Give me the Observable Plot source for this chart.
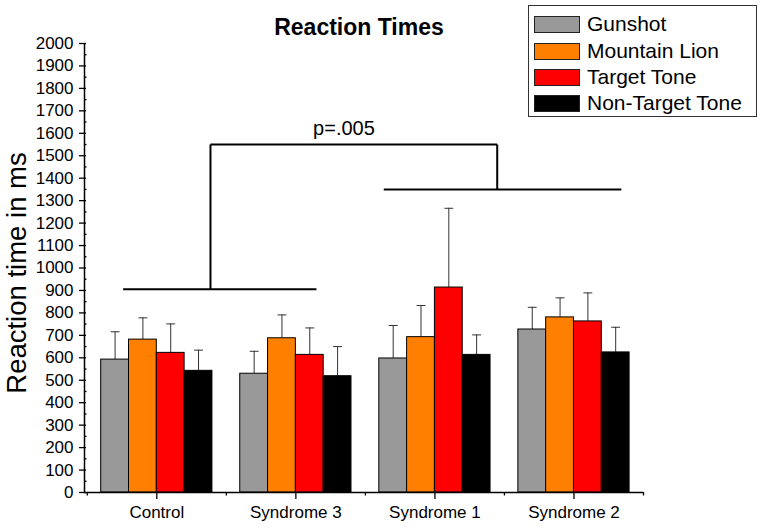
<!DOCTYPE html>
<html>
<head>
<meta charset="utf-8">
<script src="https://cdn.jsdelivr.net/npm/d3@7"></script>
<script src="https://cdn.jsdelivr.net/npm/@observablehq/plot@0.6"></script>
<style>
  html, body { margin: 0; padding: 0; background: #fff; }
  #wrap { position: relative; width: 764px; height: 530px; font-family: "Liberation Sans", Arial, sans-serif; }
  #legend { position: absolute; left: 528px; top: 5px; width: 229px; height: 112px; border: 1px solid #333; box-sizing: border-box; background: #fff; }
  .row { position: absolute; left: 5px; height: 20px; display: flex; align-items: center; }
  .sw { width: 46px; height: 17px; border: 1px solid #222; box-sizing: border-box; margin-right: 7px; }
  .lab { font-size: 21px; color: #000; white-space: nowrap; line-height: 20px; }
</style>
</head>
<body>
<div id="wrap"><div id="chart"></div><div id="legend"></div></div>
<script>
// ---- data ----
const categories = ["Control", "Syndrome 3", "Syndrome 1", "Syndrome 2"];
const seriesNames = ["Gunshot", "Mountain Lion", "Target Tone", "Non-Target Tone"];
const seriesColors = ["#999999", "#ff8000", "#ff0000", "#000000"];
const gunshot      = [592, 529, 597, 726];
const mountainLion = [681, 687, 692, 780];
const targetTone   = [622, 613, 913, 762];
const nonTarget    = [542, 518, 613, 624];
const gunshotErr      = [124, 100, 147, 99];
const mountainLionErr = [97, 104, 141, 87];
const targetToneErr   = [129, 120, 353, 127];
const nonTargetErr    = [92, 132, 89, 112];
const yTicks = d3.range(0, 2001, 100);
const yMinorTicks = d3.range(50, 2000, 100);
// significance bracket (category-index units, ms)
const bracketX  = [0.258, 0.886, 0.886, 2.948, 2.132];
const bracketX2 = [1.648, 0.886, 2.948, 2.948, 3.841];
const bracketY  = [905, 905, 1550, 1550, 1350];
const bracketY2 = [905, 1550, 1550, 1350, 1350];
const pLabel = "p=.005";
const pLabelX = 1.846, pLabelY = 1620;

// ---- build table ----
const values = [gunshot, mountainLion, targetTone, nonTarget];
const errs = [gunshotErr, mountainLionErr, targetToneErr, nonTargetErr];
const groupOffset = 0.1, barW = 0.2;
const rows = [];
categories.forEach((c, ci) => {
  seriesNames.forEach((s, si) => {
    const x1 = ci + groupOffset + si * barW;
    rows.push({category: c, series: s, x1, x2: x1 + barW, xc: x1 + barW / 2,
               value: values[si][ci], top: values[si][ci] + errs[si][ci]});
  });
});
const segs = bracketX.map((x, i) => ({x1: x, x2: bracketX2[i], y1: bracketY[i], y2: bracketY2[i]}));
const xDomain = [-0.02, 4];
const capHalf = 0.032;

const chart = Plot.plot({
  width: 764,
  height: 530,
  marginLeft: 84,
  marginRight: 121,
  marginTop: 43,
  marginBottom: 38,
  style: {fontFamily: "'Liberation Sans', Arial, sans-serif", color: "#000", background: "#fff"},
  x: {type: "linear", domain: xDomain},
  y: {domain: [0, 2000]},
  color: {domain: seriesNames, range: seriesColors},
  marks: [
    // error bars (upper only)
    Plot.ruleX(rows, {x: "xc", y1: "value", y2: "top", stroke: "#333", strokeWidth: 1}),
    Plot.link(rows, {x1: d => d.xc - capHalf, x2: d => d.xc + capHalf, y1: "top", y2: "top", stroke: "#333", strokeWidth: 1}),
    // bars
    Plot.rectY(rows, {x1: "x1", x2: "x2", y1: 0, y2: "value", fill: "series", stroke: "#000", strokeWidth: 1}),
    // axes
    Plot.ruleY([0], {stroke: "#000", strokeWidth: 1.5}),
    Plot.ruleX([xDomain[0]], {stroke: "#000", strokeWidth: 1.5}),
    Plot.axisY(yTicks, {tickSize: 0, tickPadding: 11, fontSize: 17, label: null, tickFormat: d => String(d)}),
    Plot.axisY(yTicks, {tickSize: 7, text: null, dx: 2, label: null, strokeWidth: 1.3}),
    Plot.axisY(yMinorTicks, {tickSize: 2.5, text: null, dx: 2.5, label: null, strokeWidth: 1.3}),
    Plot.axisX(categories.map((c, i) => i + 0.5), {tickSize: 7, tickPadding: 6, fontSize: 17, label: null,
      tickFormat: d => categories[Math.round(d - 0.5)], strokeWidth: 1.3}),
    Plot.axisX(d3.range(0, 5), {tickSize: 3.5, text: null, label: null, strokeWidth: 1.3}),
    // significance bracket
    Plot.link(segs, {x1: "x1", x2: "x2", y1: "y1", y2: "y2", stroke: "#000", strokeWidth: 2}),
    Plot.text([pLabel], {x: () => pLabelX, y: () => pLabelY, text: d => d, fontSize: 20}),
    // title
    Plot.text(["Reaction Times"], {frameAnchor: "top", dy: -16, dx: -5, text: d => d, fontSize: 23, fontWeight: "bold", lineAnchor: "middle"}),
    // y label
    Plot.text(["Reaction time in ms"], {frameAnchor: "left", dx: -67, dy: 5, rotate: -90, textAnchor: "middle", lineAnchor: "middle", text: d => d, fontSize: 27.5})
  ]
});
document.getElementById("chart").appendChild(chart);

// legend
const legend = document.getElementById("legend");
const rowTops = [8, 35, 61, 87];
seriesNames.forEach((s, i) => {
  const r = document.createElement("div");
  r.className = "row";
  r.style.top = rowTops[i] + "px";
  const sw = document.createElement("div");
  sw.className = "sw";
  sw.style.background = seriesColors[i];
  const lab = document.createElement("div");
  lab.className = "lab";
  lab.textContent = s;
  r.appendChild(sw); r.appendChild(lab);
  legend.appendChild(r);
});
</script>
</body>
</html>
